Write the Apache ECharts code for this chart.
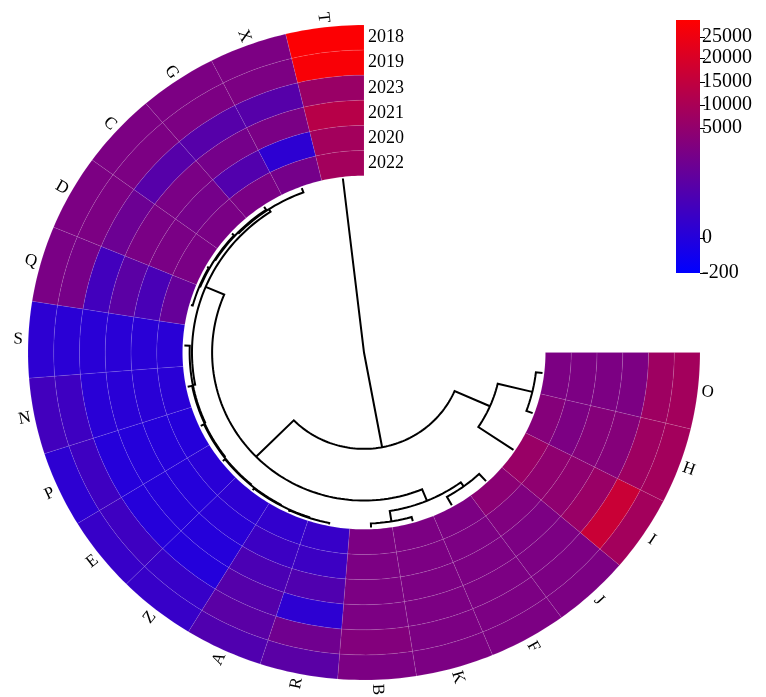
<!DOCTYPE html>
<html><head><meta charset="utf-8">
<script src="https://cdn.jsdelivr.net/npm/echarts@6/dist/echarts.min.js"></script>
<style>html,body{margin:0;padding:0;background:#fff}#c{width:766px;height:697px}</style>
</head><body><div id="c"></div>
<script>
// ---------- data ----------
const sectors = ['T','X','G','C','D','Q','S','N','P','E','Z','A','R','B','K','F','J','I','H','O'];
const years = ['2018','2019','2023','2021','2020','2022']; // outer -> inner
const y2018 = [28000,4000,4000,4000,4000,3900,450,1400,450,900,900,2020,2470,4000,4000,4000,4000,8700,8700,8700];
const y2019 = [27500,4000,4000,4000,4000,3800,300,1200,1200,1200,900,2470,3470,4300,4000,4000,4000,16800,7600,7600];
const y2023 = [6500,2300,2300,2300,3300,1400,250,250,100,100,50,2240,440,4000,4000,4000,4000,6500,4400,4000];
const y2021 = [13000,3900,3700,3900,3900,2500,250,250,100,100,100,1800,2020,4000,4000,4000,4000,4850,4400,4000];
const y2020 = [8700,440,2100,3700,3900,1700,250,250,100,100,250,1115,1115,4000,4000,4000,4200,4850,4000,4000];
const y2022 = [8700,3700,3900,3900,3900,3000,250,250,100,250,450,670,900,4000,4000,4000,4700,6500,4400,4000];
const yearValues = [y2018, y2019, y2023, y2021, y2020, y2022];

// colour scale breaks (value -> fraction of legend)
const colorBreakValues = [-200, 0, 5000, 10000, 15000, 20000, 25000, 28700];
const colorBreakStops  = [0, 0.138, 0.573, 0.664, 0.755, 0.850, 0.933, 1];
const legendTicks = [-200, 0, 5000, 10000, 15000, 20000, 25000];

// dendrogram merges (leaf names or earlier merge index)
const dendroLeft   = ['Q', 0, 1, 2, 'R', 4, 5, 6, 7, 8, 3, 'B', 'F', 11, 10, 'H', 'I', 14, 'T'];
const dendroRight  = ['D','C','G','X','A','Z','E','P','N','S', 9, 'K', 'J', 12, 13, 'O', 15, 16, 17];
const dendroHeight = [1.0, 1.5, 2.0, 2.6, 0.8, 1.2, 1.6, 2.0, 2.5, 3.0, 4.3, 2.4, 5.6, 8.4, 15.5, 3.7, 23.5, 45, 100];

// ---------- geometry ----------
const START = 90, STEP = 13.5;
const R_OUT = 1.0, R_IN = 0.54, RING = (R_OUT - R_IN) / years.length;
const LEAF_R = 0.535;
const FONT = "'Liberation Serif','Times New Roman',serif";

function toStop(v){
  for (let i = 0; i < colorBreakValues.length - 1; i++){
    const a = colorBreakValues[i], b = colorBreakValues[i+1];
    if (v <= b || i === colorBreakValues.length - 2){
      const t = (v - a) / (b - a);
      return Math.max(0, Math.min(1, colorBreakStops[i] + t * (colorBreakStops[i+1] - colorBreakStops[i])));
    }
  }
}
function P(api, deg, r){
  const a = deg * Math.PI / 180;
  return api.coord([r * Math.cos(a), r * Math.sin(a)]);
}

const heatData = [];
yearValues.forEach((arr, ri) => arr.forEach((v, si) => heatData.push([si, ri, v, toStop(v)])));

// dendrogram node positions
const maxH = Math.max.apply(null, dendroHeight);
function nodeInfo(ref){
  if (typeof ref === 'string'){ return {x: sectors.indexOf(ref), h: 0}; }
  const l = nodeInfo(dendroLeft[ref]), r = nodeInfo(dendroRight[ref]);
  return {x: (l.x + r.x) / 2, h: dendroHeight[ref]};
}
function angOf(x){ return START + (x + 0.5) * STEP; }
function radOf(h){ return LEAF_R * (1 - h / maxH); }

const chart = echarts.init(document.getElementById('c'), null, {renderer: 'canvas'});
chart.setOption({
  animation: false,
  backgroundColor: '#fff',
  grid: [
    {left: 28, right: 66, top: 25, bottom: 17},
    {left: 676, top: 20, width: 24, height: 253}
  ],
  xAxis: [
    {type: 'value', min: -1, max: 1, show: false, gridIndex: 0},
    {type: 'category', data: [''], show: false, gridIndex: 1}
  ],
  yAxis: [
    {type: 'value', min: -1, max: 1, show: false, gridIndex: 0},
    {type: 'value', min: 0, max: 1, gridIndex: 1, position: 'right',
     axisLine: {show: false}, splitLine: {show: false},
     axisTick: {show: true, length: 5, customValues: legendTicks.map(toStop), lineStyle: {color: '#000', width: 1}},
     axisLabel: {show: true, margin: 2, fontSize: 20, fontFamily: FONT, color: '#000',
       customValues: legendTicks.map(toStop),
       formatter: function(val){
         for (let i = 0; i < legendTicks.length; i++){ if (Math.abs(toStop(legendTicks[i]) - val) < 1e-6) return String(legendTicks[i]); }
         return '';
       }}
    }
  ],
  visualMap: {
    type: 'continuous', show: false, seriesIndex: 0, dimension: 3, min: 0, max: 1,
    inRange: {color: ['#0000ff', '#ff0000']}
  },
  series: [
    {
      type: 'custom', name: 'heat', xAxisIndex: 0, yAxisIndex: 0,
      data: heatData,
      renderItem: function(params, api){
        const si = api.value(0), ri = api.value(1);
        const a0 = START + si * STEP, a1 = a0 + STEP;
        const rO = R_OUT - ri * RING, rI = rO - RING;
        const pts = [], n = 14;
        for (let k = 0; k <= n; k++) pts.push(P(api, a0 + (a1 - a0) * k / n, rO));
        for (let k = n; k >= 0; k--) pts.push(P(api, a0 + (a1 - a0) * k / n, rI));
        return {type: 'polygon', shape: {points: pts},
          style: {fill: api.visual('color'), stroke: 'rgba(255,255,255,0.15)', lineWidth: 0.6}};
      }
    },
    {
      type: 'custom', name: 'labels', xAxisIndex: 0, yAxisIndex: 0,
      data: sectors.map((s, i) => [i]),
      renderItem: function(params, api){
        const i = params.dataIndex;
        const deg = START + (i + 0.5) * STEP;
        const p = P(api, deg, 1.03);
        const rot = (deg > 90 && deg < 270) ? deg - 180 : deg - 360;
        return {type: 'text', x: p[0], y: p[1], rotation: rot * Math.PI / 180,
          style: {text: sectors[i], fontSize: 17, fontFamily: FONT, fill: '#000', align: 'center', verticalAlign: 'middle'}};
      }
    },
    {
      type: 'custom', name: 'years', xAxisIndex: 0, yAxisIndex: 0,
      data: years.map((y, i) => [i]),
      renderItem: function(params, api){
        const i = params.dataIndex;
        const p = api.coord([0, R_OUT - (i + 0.5) * RING]);
        return {type: 'text', x: p[0] + 4, y: p[1],
          style: {text: years[i], fontSize: 18, fontFamily: FONT, fill: '#000', align: 'left', verticalAlign: 'middle'}};
      }
    },
    {
      type: 'custom', name: 'dendrogram', xAxisIndex: 0, yAxisIndex: 0,
      data: dendroHeight.map((h, i) => [i]),
      renderItem: function(params, api){
        const i = params.dataIndex;
        const l = nodeInfo(dendroLeft[i]), r = nodeInfo(dendroRight[i]);
        const rm = radOf(dendroHeight[i]);
        const al = angOf(l.x), ar = angOf(r.x);
        const pts = [P(api, al, radOf(l.h))];
        const n = Math.max(2, Math.ceil(Math.abs(ar - al) / 1.5));
        for (let k = 0; k <= n; k++) pts.push(P(api, al + (ar - al) * k / n, rm));
        pts.push(P(api, ar, radOf(r.h)));
        return {type: 'polyline', shape: {points: pts},
          style: {stroke: '#000', lineWidth: 2, fill: null}};
      }
    },
    {
      type: 'bar', name: 'legend', xAxisIndex: 1, yAxisIndex: 1,
      data: [1], barWidth: '100%', silent: true,
      itemStyle: {color: new echarts.graphic.LinearGradient(0, 1, 0, 0, [
        {offset: 0, color: '#0000ff'}, {offset: 1, color: '#ff0000'}])}
    }
  ]
});
</script>
</body></html>
